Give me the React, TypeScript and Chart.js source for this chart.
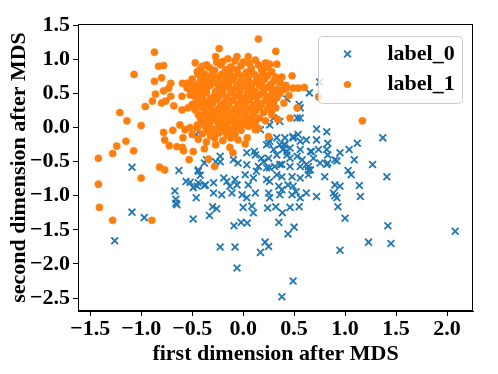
import React, { useEffect, useRef } from "react";
import { Chart, registerables } from "chart.js";
Chart.register(...registerables);

const FONT = "'Liberation Serif', 'Times New Roman', serif";
const BLUE = "#1f77b4";
const ORANGE = "#ff7f0e";

const seriesNames = ["label_0", "label_1"];
const xTitle = "first dimension after MDS";
const yTitle = "second dimension after MDS";
const xRange = [-1.62, 2.255];
const yRange = [-2.69, 1.52];

// label_0 (blue x markers)
const label0Points: [number, number][] = [
  [0.05, 0.65], [0.65, 0.51], [0.75, 0.67], [0.43, 0.42], [0.55, 0.34], [0.27, 0.45],
  [0.56, 0.14], [0.72, -0.02], [0.82, -0.06], [0.72, -0.18], [0.83, -0.23], [0.82, -0.32], [0.83, -0.40],
  [0.33, -0.15], [0.41, -0.15], [0.49, -0.13], [0.36, -0.25], [0.41, -0.25], [0.46, -0.3], [0.56, -0.2], [0.62, -0.18],
  [0.11, -0.35], [0.23, -0.25], [0.26, -0.2], [0.3, -0.32], [0.39, -0.32], [0.43, -0.4], [0.56, -0.32], [0.66, -0.35], [0.74, -0.32],
  [-0.36, -0.47], [-0.225, -0.42], [-0.095, -0.47], [0.036, -0.37], [0.12, -0.4], [0.18, -0.45], [0.25, -0.45], [0.33, -0.4],
  [0.46, -0.45], [0.53, -0.42], [0.58, -0.47], [0.69, -0.45], [0.755, -0.52], [0.83, -0.52],
  [-0.05, -0.52], [0.036, -0.544], [0.15, -0.57], [0.23, -0.59], [0.31, -0.57], [0.38, -0.54], [0.46, -0.57], [0.56, -0.57],
  [0.64, -0.57], [0.66, -0.62], [0.82, -0.54], [0.9, -0.47],
  [-0.42, -0.7], [-0.19, -0.74], [-0.16, -0.79], [-0.08, -0.76], [0.02, -0.69], [0.1, -0.74], [0.23, -0.76], [0.26, -0.79],
  [0.33, -0.69], [0.38, -0.72], [0.48, -0.72], [0.56, -0.74], [0.64, -0.69], [0.8, -0.72],
  [-0.37, -0.84], [-0.29, -0.81], [-0.13, -0.86], [-0.06, -0.84], [0.05, -0.84], [0.12, -0.96], [0.25, -0.96], [0.35, -0.86],
  [0.38, -0.91], [0.44, -0.84], [0.49, -0.86], [0.52, -0.94], [0.62, -0.96], [0.9, -0.84],
  [-0.29, -0.96], [-0.21, -0.985], [-0.11, -0.96], [-0.01, -0.985], [0.036, -1.03], [0.26, -1.03], [0.36, -0.985], [0.48, -0.985],
  [0.56, -1.03], [0.72, -1.01], [0.886, -0.96], [0.92, -1.03],
  [1.37, -0.15], [1.12, -0.23], [1.04, -0.32], [0.95, -0.37], [0.92, -0.49], [1.09, -0.47], [1.27, -0.54], [1.03, -0.63],
  [1.06, -0.69], [1.41, -0.72], [0.95, -0.86], [1.14, -0.85], [0.9, -1.0], [1.15, -1.01], [0.93, -1.16],
  [1.0, -1.33], [1.42, -1.44], [2.08, -1.52], [1.23, -1.68], [1.45, -1.7], [0.95, -1.8],
  [-0.3, -1.16], [-0.26, -1.19], [-0.33, -1.29], [0.0, -1.17], [0.085, -1.15], [0.1, -1.25], [0.24, -1.18], [0.32, -1.16],
  [0.385, -1.25], [0.46, -1.17], [0.55, -1.16], [-0.09, -1.44], [-0.02, -1.39], [0.04, -1.4], [0.35, -1.39], [0.5, -1.46],
  [0.44, -1.56], [-0.225, -1.75], [-0.08, -1.75], [0.215, -1.68], [0.25, -1.745], [0.17, -1.83], [-0.06, -2.06], [0.49, -2.25], [0.38, -2.48],
  [-1.09, -1.24], [-0.97, -1.32], [-1.26, -1.66], [-0.49, -1.34], [-0.65, -1.13],
  [-1.09, -0.58], [-0.63, -0.63], [-0.44, -0.64], [-0.38, -0.52], [-0.56, -0.79], [-0.52, -0.8], [-0.44, -0.81], [-0.49, -0.88],
  [-0.45, -0.86], [-0.38, -0.85], [-0.67, -0.93], [-0.66, -1.05], [-0.66, -1.11], [-0.46, -1.03], [-0.46, -0.1],
  [-0.13, -0.1], [0.17, -0.03], [0.26, 0.04], [0.3, 0.14], [0.36, 0.09], [0.53, 0.14], [0.56, 0.29],
  [0.25, -0.23], [0.4, -0.25], [0.49, -0.15], [0.54, -0.1], [0.43, -0.35], [0.2, -0.5], [0.26, -0.59], [0.36, -0.54],
  [0.62, -0.54], [0.67, -0.35], [0.64, -0.62], [0.13, -0.64], [-0.27, -0.5], [-0.225, -0.5], [-0.44, -0.62],
];

// label_1 (orange circles)
const label1Points: [number, number][] = [
  [-0.87, 1.107], [-1.07, 0.78], [-0.83, 0.9], [-0.78, 0.91], [-0.8, 0.73], [-0.87, 0.68], [-0.71, 0.65], [-0.595, 0.65],
  [-0.55, 0.65], [-0.86, 0.49], [-0.78, 0.54], [-0.73, 0.58], [-0.71, 0.46], [-0.89, 0.39], [-0.8, 0.36], [-0.76, 0.39],
  [-0.96, 0.31], [-0.68, 0.32], [-0.6, 0.46], [-0.47, 0.95],
  [-1.21, 0.22], [-1.14, 0.1], [-1.0, 0.03], [-0.78, -0.07], [-0.77, -0.18], [-0.69, -0.04], [-1.15, -0.2], [-1.24, -0.27],
  [-1.28, -0.38], [-1.075, -0.34], [-1.42, -0.45], [-0.725, -0.265], [-0.65, -0.28], [-0.595, -0.29], [-0.585, -0.34],
  [-0.53, -0.47], [-0.49, -0.35], [-0.59, -0.15], [-0.62, 0.04], [-0.57, -0.03], [-0.52, 0.0], [-0.5, -0.1], [-0.82, -0.58],
  [-0.77, -0.62], [-1.42, -0.83], [-1.0, -0.74], [-1.41, -1.17], [-1.28, -1.36], [-0.895, -1.36],
  [1.17, 0.1], [0.74, 0.45], [0.15, 1.3], [-0.235, 1.16], [-0.27, 1.04], [0.32, 1.12], [-0.06, 1.04], [0.05, 1.04],
  [-0.4, 0.9], [0.22, 0.95], [0.26, 0.93], [0.33, 0.93], [0.48, 0.76], [0.38, 0.74], [0.42, 0.57], [0.49, 0.58],
  [0.54, 0.58], [0.6, 0.59],
  [-0.6, 0.26], [-0.54, 0.29], [-0.47, 0.26], [-0.44, 0.19], [-0.45, 0.04], [-0.4, 0.07],
  [-0.44, 0.78], [-0.42, 0.68], [-0.5, 0.53], [-0.47, 0.49], [-0.44, 0.58], [-0.4, 0.44], [-0.5, 0.34], [-0.44, 0.34],
  [-0.28, -0.57], [-0.34, -0.46], [-0.1, -0.37], [-0.13, -0.29], [-0.27, -0.25], [0.02, -0.24], [0.04, -0.15], [-0.05, -0.18],
  [0.25, -0.13], [0.12, -0.03], [0.46, 0.14], [0.34, 0.12], [0.53, 0.29],
  [-0.15, 1.01], [0.12, 0.99], [-0.2, 0.97], [0.0, 0.96],
  [-0.33, 0.88], [-0.22, 0.92], [-0.12, 0.89], [-0.02, 0.91], [0.08, 0.87], [0.15, 0.92], [-0.28, 0.84], [0.18, 0.85],
  [-0.45, 0.82], [-0.38, 0.79], [-0.3, 0.81], [-0.21, 0.78], [-0.13, 0.82], [-0.05, 0.79], [0.03, 0.81], [0.11, 0.78],
  [0.19, 0.8], [0.28, 0.82], [0.24, 0.76], [-0.09, 0.74],
  [-0.5, 0.71], [-0.35, 0.69], [-0.27, 0.72], [-0.19, 0.68], [-0.11, 0.7], [-0.03, 0.67], [0.05, 0.72], [0.13, 0.69],
  [0.21, 0.71], [0.3, 0.68], [0.36, 0.66], [-0.44, 0.64], [0.09, 0.64],
  [-0.55, 0.58], [-0.47, 0.61], [-0.4, 0.57], [-0.32, 0.62], [-0.24, 0.59], [-0.16, 0.61], [-0.08, 0.57], [0.0, 0.6],
  [0.08, 0.58], [0.16, 0.62], [0.24, 0.59], [0.33, 0.56], [-0.2, 0.54], [0.12, 0.53],
  [-0.52, 0.48], [-0.36, 0.51], [-0.28, 0.47], [-0.2, 0.49], [-0.12, 0.52], [-0.04, 0.47], [0.04, 0.5], [0.12, 0.46],
  [0.2, 0.51], [0.28, 0.48], [0.36, 0.5], [0.45, 0.47], [-0.32, 0.43], [0.0, 0.43],
  [-0.34, 0.38], [-0.26, 0.41], [-0.18, 0.37], [-0.1, 0.4], [-0.02, 0.38], [0.06, 0.41], [0.14, 0.37], [0.22, 0.4],
  [0.3, 0.38], [0.4, 0.36], [-0.22, 0.33], [0.1, 0.33],
  [-0.4, 0.29], [-0.32, 0.31], [-0.24, 0.28], [-0.16, 0.3], [-0.08, 0.27], [0.0, 0.31], [0.08, 0.28], [0.16, 0.3],
  [0.24, 0.27], [0.32, 0.29], [-0.12, 0.23], [0.2, 0.22],
  [-0.38, 0.19], [-0.3, 0.21], [-0.22, 0.18], [-0.14, 0.2], [-0.06, 0.17], [0.02, 0.2], [0.1, 0.18], [0.28, 0.19],
  [-0.36, 0.09], [-0.28, 0.11], [-0.2, 0.08], [-0.12, 0.1], [-0.04, 0.07], [0.04, 0.11], [0.12, 0.08], [0.22, 0.1],
  [-0.45, -0.01], [-0.37, 0.02], [-0.29, -0.02], [-0.21, 0.01], [-0.13, -0.03], [-0.05, 0.0], [0.05, 0.02], [0.15, -0.01],
  [-0.4, -0.09], [-0.32, -0.12], [-0.24, -0.08], [-0.16, -0.11], [-0.08, -0.09],
  [-0.36, -0.21], [-0.2, -0.19], [-0.38, -0.31],
  [-0.42, 0.86], [-0.36, 0.92], [-0.26, 0.96], [-0.08, 0.98], [0.06, 0.94], [-0.17, 0.85], [-0.06, 0.85], [0.07, 0.83], [0.23, 0.88],
  [-0.41, 0.74], [-0.33, 0.75], [-0.24, 0.74], [-0.16, 0.76], [-0.01, 0.75], [0.16, 0.74], [0.32, 0.74],
  [-0.53, 0.65], [-0.37, 0.64], [-0.29, 0.66], [-0.22, 0.63], [-0.14, 0.65], [-0.06, 0.63], [0.03, 0.65], [0.18, 0.66], [0.27, 0.63], [0.42, 0.62],
  [-0.51, 0.54], [-0.43, 0.52], [-0.36, 0.56], [-0.27, 0.53], [-0.12, 0.56], [-0.03, 0.54], [0.06, 0.55], [0.2, 0.56], [0.29, 0.53], [0.38, 0.55],
  [-0.47, 0.45], [-0.4, 0.48], [-0.24, 0.45], [-0.16, 0.44], [-0.08, 0.46], [0.08, 0.45], [0.16, 0.48], [0.24, 0.44], [0.33, 0.44],
  [-0.45, 0.39], [-0.38, 0.35], [-0.3, 0.35], [-0.14, 0.34], [-0.05, 0.34], [0.02, 0.35], [0.18, 0.34], [0.26, 0.34],
  [-0.35, 0.25], [-0.28, 0.24], [-0.2, 0.25], [-0.04, 0.24], [0.04, 0.25], [0.12, 0.24], [0.28, 0.25],
  [-0.42, 0.14], [-0.33, 0.15], [-0.25, 0.14], [-0.17, 0.15], [-0.09, 0.13], [0.0, 0.14], [0.08, 0.14], [0.16, 0.14],
  [-0.41, 0.05], [-0.33, 0.05], [-0.24, 0.05], [-0.16, 0.04], [-0.08, 0.04], [0.0, 0.05], [0.09, 0.05],
  [-0.35, -0.05], [-0.27, -0.04], [-0.19, -0.05], [-0.1, -0.05], [-0.02, -0.04],
  [-0.28, -0.15], [-0.12, -0.15], [-0.44, -0.17],
];

const fmt = (v: number) => v.toFixed(1).replace("-", "\u2212");

const framePlugin = {
  id: "frameAndLegend",
  afterDraw(chart: any) {
    const { ctx, chartArea: a } = chart;
    ctx.save();
    ctx.strokeStyle = "#000";
    ctx.lineWidth = 1;
    ctx.strokeRect(a.left + 0.5, a.top + 0.5, a.right - a.left - 1, a.bottom - a.top - 1);

    // legend box (upper right, inside plot)
    const bx = a.right - 154.5, by = a.top + 12.5, bw = 144, bh = 67, r = 4;
    ctx.beginPath();
    ctx.moveTo(bx + r, by);
    ctx.lineTo(bx + bw - r, by);
    ctx.quadraticCurveTo(bx + bw, by, bx + bw, by + r);
    ctx.lineTo(bx + bw, by + bh - r);
    ctx.quadraticCurveTo(bx + bw, by + bh, bx + bw - r, by + bh);
    ctx.lineTo(bx + r, by + bh);
    ctx.quadraticCurveTo(bx, by + bh, bx, by + bh - r);
    ctx.lineTo(bx, by + r);
    ctx.quadraticCurveTo(bx, by, bx + r, by);
    ctx.closePath();
    ctx.fillStyle = "rgba(255,255,255,0.8)";
    ctx.fill();
    ctx.strokeStyle = "#cccccc";
    ctx.stroke();

    const mx = bx + 29, y0 = by + 17.5, y1 = by + 48;
    ctx.strokeStyle = BLUE;
    ctx.lineWidth = 1.8;
    ctx.beginPath();
    ctx.moveTo(mx - 3.4, y0 - 3.4); ctx.lineTo(mx + 3.4, y0 + 3.4);
    ctx.moveTo(mx - 3.4, y0 + 3.4); ctx.lineTo(mx + 3.4, y0 - 3.4);
    ctx.stroke();
    ctx.fillStyle = ORANGE;
    ctx.beginPath();
    ctx.arc(mx, y1, 3.6, 0, Math.PI * 2);
    ctx.fill();

    ctx.fillStyle = "#000";
    ctx.font = `bold 22px ${FONT}`;
    ctx.textBaseline = "middle";
    ctx.textAlign = "left";
    ctx.fillText(seriesNames[0], bx + 69, y0);
    ctx.fillText(seriesNames[1], bx + 69, y1);
    ctx.restore();
  },
};

export default function App() {
  const ref = useRef<HTMLCanvasElement>(null);
  useEffect(() => {
    if (!ref.current) return;
    const tickFont = { family: FONT, size: 22, weight: "bold" as const };
    const chart = new Chart(ref.current, {
      type: "scatter",
      data: {
        datasets: [
          {
            label: seriesNames[1],
            data: label1Points.map(([x, y]) => ({ x, y })),
            pointStyle: "circle",
            radius: 3.6,
            backgroundColor: ORANGE,
            borderColor: ORANGE,
            borderWidth: 0.5,
            order: 1,
          },
          {
            label: seriesNames[0],
            data: label0Points.map(([x, y]) => ({ x, y })),
            pointStyle: "crossRot",
            radius: 4.8,
            backgroundColor: BLUE,
            borderColor: BLUE,
            borderWidth: 1.8,
            order: 2,
          },
        ],
      },
      options: {
        animation: false,
        responsive: false,
        events: [],
        layout: { padding: { left: 6, top: 24, right: 25, bottom: 6 } },
        plugins: { legend: { display: false }, tooltip: { enabled: false } },
        scales: {
          x: {
            type: "linear",
            min: xRange[0],
            max: xRange[1],
            afterFit: (s: any) => { s.height = 57; },
            grid: { drawOnChartArea: false, drawTicks: true, tickLength: 5, color: "#000" },
            border: { color: "#000", width: 1 },
            ticks: {
              stepSize: 0.5,
              includeBounds: false,
              color: "#000",
              font: tickFont,
              padding: 0,
              maxRotation: 0,
              callback: (v: any) => fmt(Number(v)),
            },
            title: { display: true, text: xTitle, color: "#000", font: tickFont, padding: { top: 0, bottom: 0 } },
          },
          y: {
            type: "linear",
            min: yRange[0],
            max: yRange[1],
            afterFit: (s: any) => { s.width = 72; },
            grid: { drawOnChartArea: false, drawTicks: true, tickLength: 5, color: "#000" },
            border: { color: "#000", width: 1 },
            ticks: {
              stepSize: 0.5,
              includeBounds: false,
              color: "#000",
              font: tickFont,
              padding: 3,
              callback: (v: any) => fmt(Number(v)),
            },
            title: { display: true, text: yTitle, color: "#000", font: tickFont, padding: { top: 0, bottom: 0 } },
          },
        },
      },
      plugins: [framePlugin],
    });
    return () => chart.destroy();
  }, []);
  return (
    <div style={{ position: "absolute", left: 0, top: 0, width: 498, height: 374, background: "#fff" }}>
      <canvas ref={ref} width={498} height={374} />
    </div>
  );
}
